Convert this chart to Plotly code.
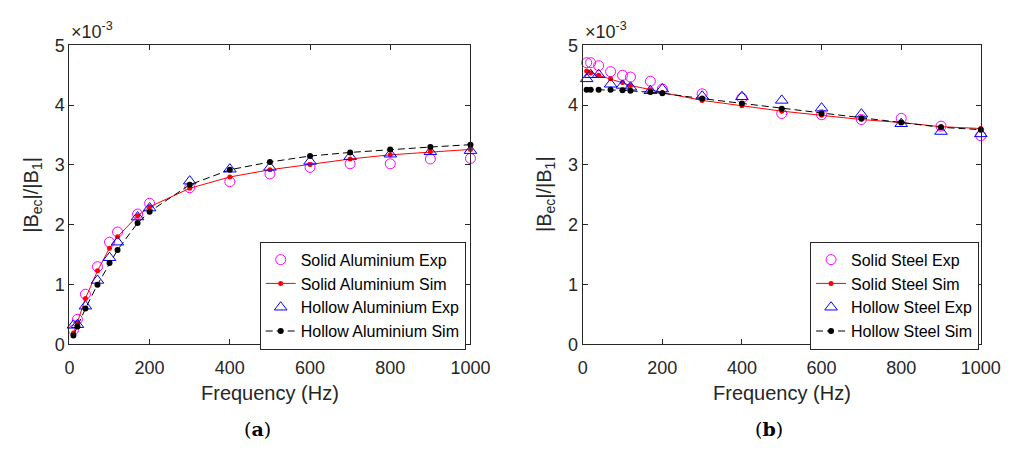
import plotly.graph_objects as go

# Frequencies (Hz)
freq = [10, 20, 40, 70, 100, 120, 170, 200, 300, 400, 500, 600, 700, 800, 900, 1000]

# |Bec|/|B1| values in units of 1e-3
al_solid_exp = [0.24, 0.42, 0.84, 1.30, 1.71, 1.88, 2.18, 2.36, 2.62, 2.72, 2.85, 2.96, 3.02, 3.02, 3.10, 3.11]
al_solid_sim = [0.19, 0.37, 0.77, 1.23, 1.61, 1.80, 2.15, 2.30, 2.61, 2.80, 2.92, 3.01, 3.10, 3.17, 3.22, 3.26]
al_hollow_exp = [0.32, 0.33, 0.64, 1.07, 1.45, 1.71, 2.13, 2.28, 2.73, 2.93, 2.96, 3.06, 3.14, 3.18, 3.22, 3.24]
al_hollow_sim = [0.15, 0.30, 0.60, 1.00, 1.36, 1.58, 2.03, 2.22, 2.67, 2.92, 3.05, 3.15, 3.21, 3.26, 3.30, 3.34]

st_solid_exp = [4.71, 4.71, 4.66, 4.56, 4.50, 4.47, 4.40, 4.27, 4.19, 4.12, 3.86, 3.84, 3.76, 3.78, 3.65, 3.49]
st_solid_sim = [4.57, 4.54, 4.50, 4.44, 4.38, 4.33, 4.26, 4.21, 4.08, 3.99, 3.90, 3.83, 3.76, 3.71, 3.64, 3.61]
st_hollow_exp = [4.44, 4.51, 4.51, 4.35, 4.33, 4.30, 4.24, 4.27, 4.15, 4.14, 4.08, 3.95, 3.85, 3.69, 3.56, 3.52]
st_hollow_sim = [4.26, 4.26, 4.26, 4.26, 4.25, 4.24, 4.22, 4.20, 4.11, 4.03, 3.94, 3.86, 3.78, 3.71, 3.63, 3.59]

names_al = ["Solid Aluminium Exp", "Solid Aluminium Sim", "Hollow Aluminium Exp", "Hollow Aluminium Sim"]
names_st = ["Solid Steel Exp", "Solid Steel Sim", "Hollow Steel Exp", "Hollow Steel Sim"]
x_ticks = [0, 200, 400, 600, 800, 1000]
y_ticks = [0, 1, 2, 3, 4, 5]

W, H = 1034, 450
FONT = "Liberation Sans, Arial, Helvetica, sans-serif"
AX = "#262626"

def px(x):
    return x / W

def py(y):
    return 1 - y / H

fig = go.Figure()

def add_set(vals, names, xa, ya, leg):
    s_exp, s_sim, h_exp, h_sim = vals
    fig.add_trace(go.Scatter(x=freq, y=s_exp, name=names[0], mode="markers",
                             marker=dict(symbol="circle-open", size=10, color="#FF00FF", line=dict(width=1)),
                             xaxis=xa, yaxis=ya, legend=leg, cliponaxis=False))
    fig.add_trace(go.Scatter(x=freq, y=s_sim, name=names[1], mode="lines+markers",
                             line=dict(color="#FF0000", width=1),
                             marker=dict(symbol="circle", size=5, color="#FF0000"),
                             xaxis=xa, yaxis=ya, legend=leg, cliponaxis=False))
    fig.add_trace(go.Scatter(x=freq, y=h_exp, name=names[2], mode="markers",
                             marker=dict(symbol="triangle-up-open", size=11, color="#0000FF", line=dict(width=1)),
                             xaxis=xa, yaxis=ya, legend=leg, cliponaxis=False))
    fig.add_trace(go.Scatter(x=freq, y=h_sim, name=names[3], mode="lines+markers",
                             line=dict(color="#000000", width=1, dash="7px,4px"),
                             marker=dict(symbol="circle", size=6, color="#000000"),
                             xaxis=xa, yaxis=ya, legend=leg, cliponaxis=False))

add_set([al_solid_exp, al_solid_sim, al_hollow_exp, al_hollow_sim], names_al, "x", "y", "legend")
add_set([st_solid_exp, st_solid_sim, st_hollow_exp, st_hollow_sim], names_st, "x2", "y2", "legend2")

axis_common = dict(showgrid=False, zeroline=False, ticks="inside", ticklen=5, tickwidth=1,
                   tickcolor=AX, showline=True, linecolor=AX, linewidth=1, mirror="ticks",
                   tickfont=dict(family=FONT, size=18, color=AX))

xd1 = [px(66), px(477)]
xd2 = [px(592), px(1000)]
yd = [py(350), py(37)]

leg_common = dict(xanchor="left", yanchor="middle", bordercolor="#262626", borderwidth=1,
                  bgcolor="white", font=dict(family=FONT, size=16, color="#000000"),
                  tracegroupgap=0)

fig.update_layout(
    width=W, height=H,
    margin=dict(l=0, r=0, t=0, b=0),
    paper_bgcolor="white", plot_bgcolor="white",
    font=dict(family=FONT, color=AX),
    xaxis=dict(domain=xd1, range=[0, 1000], tickvals=x_ticks, anchor="y", ticklabelstandoff=7, **axis_common),
    yaxis=dict(domain=yd, range=[0, 5], tickvals=y_ticks, anchor="x", **axis_common),
    xaxis2=dict(domain=xd2, range=[0, 1000], tickvals=x_ticks, anchor="y2", ticklabelstandoff=7, **axis_common),
    yaxis2=dict(domain=yd, range=[0, 5], tickvals=y_ticks, anchor="x2", **axis_common),
    legend=dict(x=px(261), y=py(299), **leg_common),
    legend2=dict(x=px(825), y=py(299), **leg_common),
    showlegend=True,
)

ann = []
for xl, xr, lab in [(66, 477, "a"), (592, 1000, "b")]:
    cx = (xl + xr) / 2
    ann.append(dict(x=px(cx), y=py(401), xref="paper", yref="paper", text="Frequency (Hz)",
                    showarrow=False, xanchor="center", yanchor="middle",
                    font=dict(family=FONT, size=20, color=AX)))
    ann.append(dict(x=px(xl - 38), y=py(193), xref="paper", yref="paper",
                    text="|B<sub>ec</sub>|/|B<sub>1</sub>|", textangle=-90,
                    showarrow=False, xanchor="center", yanchor="middle",
                    font=dict(family=FONT, size=20, color=AX)))
    ann.append(dict(x=px(xl), y=py(36), xref="paper", yref="paper",
                    text="×10<sup>-3</sup>", showarrow=False, xanchor="left", yanchor="bottom",
                    font=dict(family=FONT, size=18, color=AX)))
    ann.append(dict(x=px(cx - 13), y=py(438), xref="paper", yref="paper",
                    text="(<b>" + lab + "</b>)", showarrow=False, xanchor="center", yanchor="middle",
                    font=dict(family="DejaVu Serif, serif", size=19, color="#000000")))
fig.update_layout(annotations=ann)

fig.write_html("out.html")
